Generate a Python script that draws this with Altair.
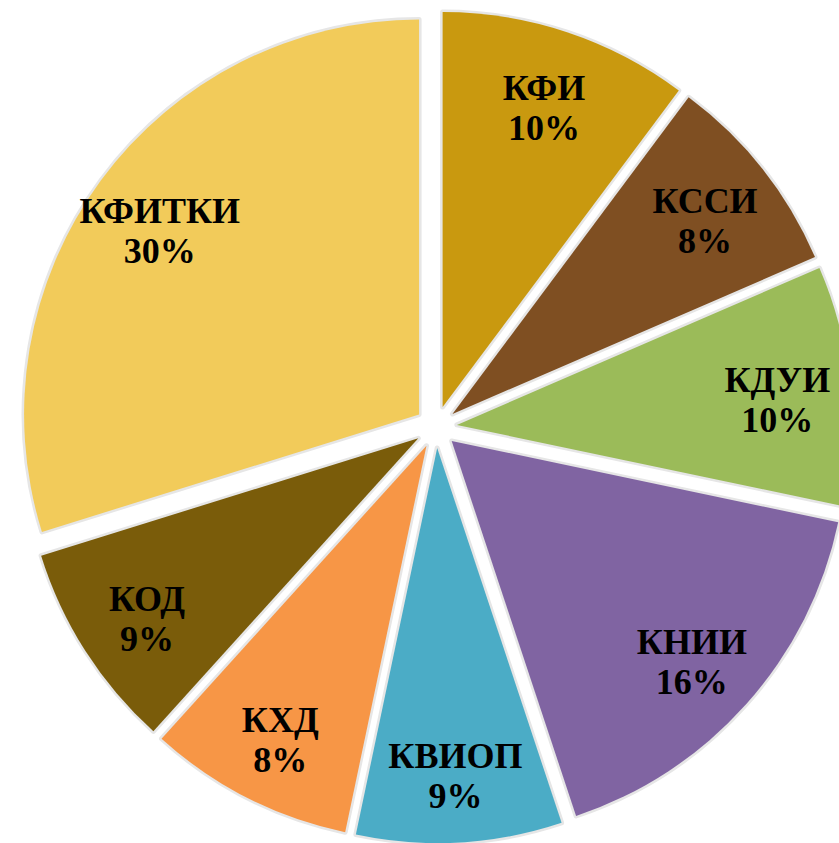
import altair as alt
import pandas as pd

labels = ["КФИ", "КССИ", "КДУИ", "КНИИ", "КВИОП", "КХД", "КОД", "КФИТКИ"]
# slice shares
values = [10.2, 8.3, 9.8, 16.6, 8.4, 8.4, 8.5, 29.8]
# percentages as printed on the slices
pct_labels = ["10%", "8%", "10%", "16%", "9%", "8%", "9%", "30%"]
colors = ["#C9990F", "#7F4F22", "#9BBB59", "#8064A2", "#4BACC6", "#F79646", "#7A5C0A", "#F2CB5A"]

df = pd.DataFrame({
    "label": labels,
    "value": values,
    "pct": pct_labels,
    "idx": list(range(len(labels))),
})

CX, CY = 436, 427
R = 395
EXPLODE = 21

base = (
    alt.Chart(df)
    .transform_window(cum="sum(value)", sort=[alt.SortField("idx")], frame=[None, 0])
    .transform_joinaggregate(total="sum(value)")
    .transform_calculate(
        mid="(datum.cum - datum.value / 2) / datum.total * 2 * PI",
        txt="datum.label + '\\n' + datum.pct",
    )
    .transform_calculate(
        cx=f"{CX} + {EXPLODE} * sin(datum.mid)",
        cy=f"{CY} - {EXPLODE} * cos(datum.mid)",
    )
)

theta = alt.Theta("value:Q", stack=True)
order = alt.Order("idx:Q")
xpos = alt.X("cx:Q", scale=None, axis=None)
ypos = alt.Y("cy:Q", scale=None, axis=None)

shadow = base.mark_arc(outerRadius=R, innerRadius=0, fill="#e6e6e6", stroke="#e6e6e6",
                       strokeWidth=5, strokeJoin="round").encode(
    theta=theta, order=order, x=xpos, y=ypos
)

arcs = base.mark_arc(outerRadius=R, innerRadius=0, strokeWidth=0).encode(
    theta=theta,
    order=order,
    x=xpos,
    y=ypos,
    color=alt.Color("label:N", scale=alt.Scale(domain=labels, range=colors), sort=None, legend=None),
)

text = base.mark_text(
    radius=343,
    font="Liberation Serif",
    fontWeight="bold",
    fontSize=36,
    lineBreak="\n",
    lineHeight=40,
    dy=-12,
    color="#000000",
    align="center",
    baseline="middle",
).encode(
    theta=theta,
    order=order,
    x=alt.value(CX),
    y=alt.value(CY),
    text="txt:N",
)

chart = (
    alt.layer(shadow, arcs, text)
    .properties(width=839, height=843, padding=0, autosize=alt.AutoSizeParams(type="none"))
    .configure_view(stroke=None)
)

chart.save("out.html", embed_options={"renderer": "svg", "actions": False})
